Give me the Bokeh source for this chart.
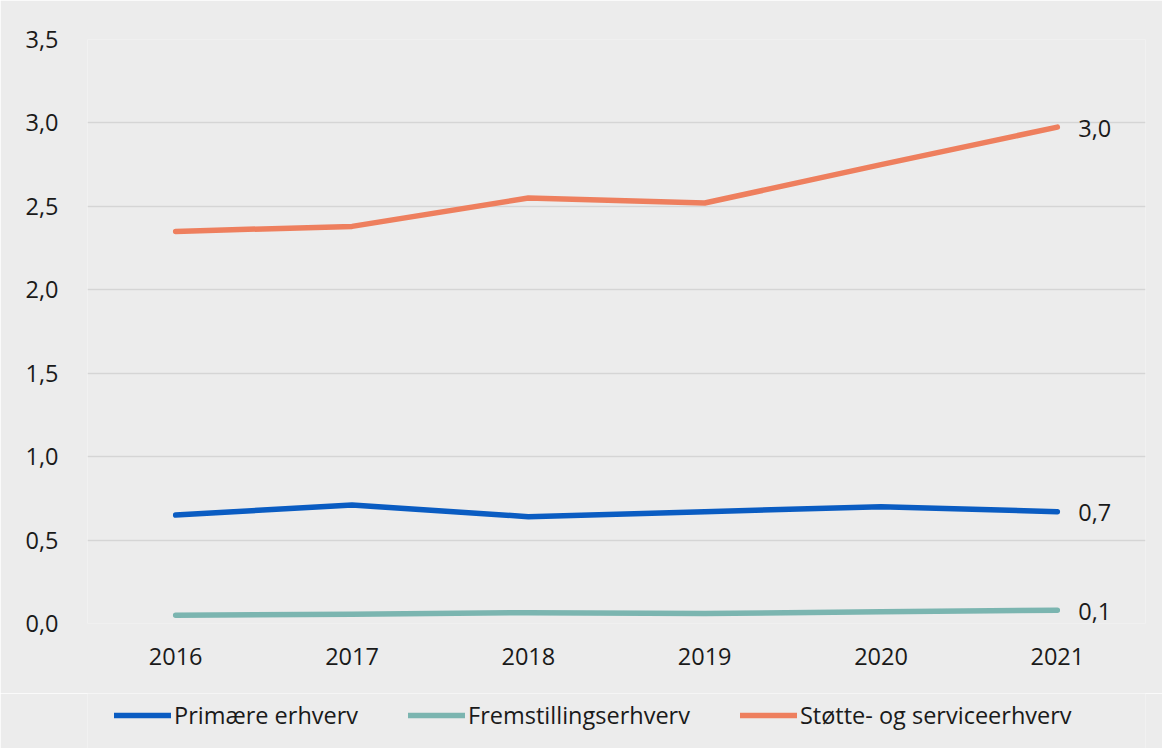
from bokeh.plotting import figure
from bokeh.models import FixedTicker, Legend, LegendItem, ColumnDataSource, Range1d
from bokeh.layouts import column
from bokeh.core.properties import value
from bokeh.embed import file_html
from bokeh.resources import INLINE

years = ["2016", "2017", "2018", "2019", "2020", "2021"]
primaere = [0.65, 0.71, 0.64, 0.67, 0.70, 0.67]
fremstilling = [0.05, 0.055, 0.065, 0.06, 0.07, 0.08]
stotte = [2.35, 2.38, 2.55, 2.52, 2.75, 2.975]
series_names = ["Primære erhverv", "Fremstillingserhverv", "Støtte- og serviceerhverv"]
y_ticks = [0.0, 0.5, 1.0, 1.5, 2.0, 2.5, 3.0, 3.5]
y_tick_labels = ["0,0", "0,5", "1,0", "1,5", "2,0", "2,5", "3,0", "3,5"]

colors = ["#0a5cc2", "#7bb5b0", "#ee7f5e"]
FONT = "Open Sans"
FS = "23.5px"
TXT = "#1a1a1a"
BG = "#ececec"

p = figure(x_range=years, frame_width=1058, frame_height=584, output_backend="svg",
           toolbar_location=None, min_border_left=87, min_border_right=17,
           min_border_top=39, min_border_bottom=70)
p.y_range = Range1d(0, 3.5)
p.background_fill_color = BG
p.border_fill_color = BG
p.outline_line_color = None

for vals, c in zip([primaere, fremstilling, stotte], colors):
    p.line(years, vals, line_color=c, line_width=5.5, line_cap="round", line_join="round")

# end labels
lab_src = ColumnDataSource(dict(
    x=[years[-1]] * 3,
    y=[primaere[-1], fremstilling[-1], stotte[-1]],
    t=[f"{v:.1f}".replace(".", ",") for v in [primaere[-1], fremstilling[-1], stotte[-1]]],
))
p.text(x="x", y="y", text="t", source=lab_src, x_offset=21, y_offset=1,
       text_font=value(FONT), text_font_size=FS, text_color=TXT,
       text_baseline="middle", text_align="left")

p.yaxis.ticker = FixedTicker(ticks=y_ticks)
p.yaxis.major_label_overrides = {t: l for t, l in zip(y_ticks, y_tick_labels)}
for ax in [p.xaxis[0], p.yaxis[0]]:
    ax.axis_line_color = None
    ax.major_tick_line_color = None
    ax.minor_tick_line_color = None
    ax.major_label_text_font = FONT
    ax.major_label_text_font_size = FS
    ax.major_label_text_color = TXT
p.yaxis.major_label_standoff = 23
p.xaxis.major_label_standoff = 18

p.xgrid.grid_line_color = None
p.ygrid.grid_line_color = "#d5d5d5"
p.ygrid.grid_line_width = 1.5

# legend strip below the chart
lg = figure(frame_width=1058, frame_height=55, output_backend="svg", toolbar_location=None,
            x_range=Range1d(0, 1), y_range=Range1d(0, 1),
            x_axis_type=None, y_axis_type=None,
            min_border_left=87, min_border_right=17, min_border_top=0, min_border_bottom=0)
lg.background_fill_color = BG
lg.border_fill_color = BG
lg.outline_line_color = None
lg.grid.visible = False
items = []
for n, c in zip(series_names, colors):
    r = lg.line([-3, -2], [-3, -2], line_color=c, line_width=5.5, line_cap="round")
    items.append(LegendItem(label=n, renderers=[r]))
legend = Legend(items=items, orientation="horizontal", location=(27, 17),
                label_text_font=FONT, label_text_font_size=FS, label_text_color=TXT,
                background_fill_alpha=0, border_line_color=None,
                glyph_width=57, glyph_height=20, label_standoff=3, spacing=50,
                margin=0, padding=0)
lg.add_layout(legend, "center")

layout = column(p, lg, spacing=0)
html = file_html(layout, INLINE)
html = html.replace("<body>", '<body style="background:%s">' % BG, 1)
open("out.html", "w").write(html)
